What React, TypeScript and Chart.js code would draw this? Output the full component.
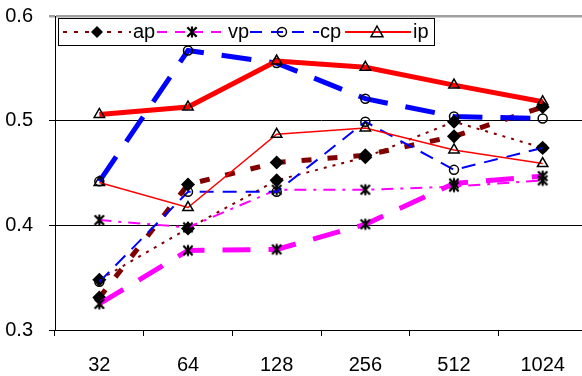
import React, { useEffect, useRef } from 'react';
import { Chart, registerables } from 'chart.js';
Chart.register(...registerables);

const categories = ['32', '64', '128', '256', '512', '1024'];
const apThick = [0.331, 0.439, 0.46, 0.467, 0.485, 0.513];
const apThin = [0.348, 0.397, 0.443, 0.465, 0.499, 0.474];
const vpThick = [0.325, 0.376, 0.377, 0.401, 0.44, 0.447];
const vpThin = [0.405, 0.398, 0.434, 0.434, 0.437, 0.443];
const cpThick = [0.442, 0.567, 0.555, 0.521, 0.504, 0.502];
const cpThin = [0.346, 0.432, 0.432, 0.499, 0.453, 0.474];
const ipThick = [0.506, 0.513, 0.557, 0.551, 0.534, 0.518];
const ipThin = [0.441, 0.417, 0.487, 0.493, 0.472, 0.459];
const yTicks = [0.3, 0.4, 0.5, 0.6];
const legendLabels = ['ap', 'vp', 'cp', 'ip'];

const DARKRED = '#800000';
const MAGENTA = '#ff00ff';
const BLUE = '#0000ff';
const RED = '#ff0000';
const FONT = '"Liberation Sans", Arial, sans-serif';

function drawMarker(ctx: CanvasRenderingContext2D, kind: string, x: number, y: number) {
  ctx.save();
  ctx.strokeStyle = '#000';
  ctx.fillStyle = '#000';
  ctx.lineWidth = 1.5;
  ctx.setLineDash([]);
  ctx.beginPath();
  if (kind === 'diamond') {
    const r = 6;
    ctx.moveTo(x, y - r); ctx.lineTo(x + r, y); ctx.lineTo(x, y + r); ctx.lineTo(x - r, y); ctx.closePath();
    ctx.fill();
  } else if (kind === 'star') {
    const r = 5.5;
    ctx.moveTo(x, y - r); ctx.lineTo(x, y + r);
    ctx.moveTo(x - r * 0.85, y - r * 0.85); ctx.lineTo(x + r * 0.85, y + r * 0.85);
    ctx.moveTo(x + r * 0.85, y - r * 0.85); ctx.lineTo(x - r * 0.85, y + r * 0.85);
    ctx.lineWidth = 2.2;
    ctx.stroke();
  } else if (kind === 'circle') {
    ctx.arc(x, y, 4.5, 0, Math.PI * 2);
    ctx.stroke();
  } else if (kind === 'triangle') {
    const r = 6;
    ctx.moveTo(x, y - r); ctx.lineTo(x + r, y + r * 0.8); ctx.lineTo(x - r, y + r * 0.8); ctx.closePath();
    ctx.stroke();
  }
  ctx.restore();
}

function makeStarImage(): HTMLCanvasElement {
  const c = document.createElement('canvas');
  c.width = 14; c.height = 14;
  const ctx = c.getContext('2d')!;
  drawMarker(ctx, 'star', 7, 7);
  return c;
}

const legendSpec = [
  { label: legendLabels[0], color: DARKRED, dash: [4, 7], x0: 63, x1: 131, mx: 97, tx: 133, marker: 'diamond' },
  { label: legendLabels[1], color: MAGENTA, dash: [10, 8], x0: 157, x1: 227, mx: 192, tx: 228, marker: 'star' },
  { label: legendLabels[2], color: BLUE, dash: [12, 9], x0: 250, x1: 319, mx: 282, tx: 320, marker: 'circle' },
  { label: legendLabels[3], color: RED, dash: [], x0: 345, x1: 411, mx: 377, tx: 413, marker: 'triangle' },
];

const legendPlugin = {
  id: 'boxLegend',
  afterDraw(chart: any) {
    const ctx: CanvasRenderingContext2D = chart.ctx;
    ctx.save();
    ctx.fillStyle = '#fff';
    ctx.fillRect(58, 18, 376, 27);
    ctx.strokeStyle = '#000';
    ctx.lineWidth = 1;
    ctx.strokeRect(58.5, 18.5, 376, 27);
    const cy = 32;
    for (const e of legendSpec) {
      ctx.save();
      ctx.strokeStyle = e.color;
      ctx.lineWidth = 2;
      ctx.setLineDash(e.dash);
      ctx.beginPath();
      ctx.moveTo(e.x0, cy);
      ctx.lineTo(e.x1, cy);
      ctx.stroke();
      ctx.restore();
      drawMarker(ctx, e.marker, e.mx, cy);
      ctx.fillStyle = '#000';
      ctx.font = `20px ${FONT}`;
      ctx.textBaseline = 'middle';
      ctx.textAlign = 'left';
      ctx.fillText(e.label, e.tx, cy);
    }
    ctx.restore();
  },
};

export default function App() {
  const ref = useRef<HTMLCanvasElement | null>(null);
  useEffect(() => {
    if (!ref.current) return;
    const star = makeStarImage();
    const mk = (data: number[], color: string, width: number, dash: number[], style: any, fill: string, radius: number) => ({
      data,
      borderColor: color,
      borderWidth: width,
      borderDash: dash,
      borderCapStyle: 'butt',
      tension: 0,
      fill: false,
      pointStyle: style,
      pointRadius: radius,
      pointBackgroundColor: fill,
      pointBorderColor: '#000',
      pointBorderWidth: 1.5,
    });
    const chart = new Chart(ref.current, {
      type: 'line',
      data: {
        labels: categories,
        datasets: [
          mk(ipThin, RED, 1.5, [], 'triangle', 'rgba(0,0,0,0)', 6),
          mk(cpThin, BLUE, 2, [14, 9], 'circle', 'rgba(0,0,0,0)', 4.5),
          mk(vpThin, MAGENTA, 2, [12, 7, 3, 7], star, '#000', 6),
          mk(apThin, DARKRED, 2, [3, 6], 'rectRot', '#000', 6),
          mk(ipThick, RED, 5, [], 'triangle', 'rgba(0,0,0,0)', 6),
          mk(cpThick, BLUE, 5, [30, 18], 'circle', 'rgba(0,0,0,0)', 4.5),
          mk(vpThick, MAGENTA, 5, [28, 18], star, '#000', 6),
          mk(apThick, DARKRED, 5, [10, 16], 'rectRot', '#000', 6),
        ] as any,
      },
      options: {
        responsive: false,
        animation: false,
        layout: { padding: { top: 16, right: 13, left: 0, bottom: 0 } },
        plugins: { legend: { display: false }, tooltip: { enabled: false } },
        scales: {
          x: {
            type: 'category',
            offset: true,
            grid: { offset: true, drawOnChartArea: false, drawTicks: true, tickLength: 6, color: '#000', tickColor: '#000' },
            border: { display: true, color: '#000', width: 1 },
            ticks: { color: '#000', font: { family: FONT, size: 20 }, padding: 17, maxRotation: 0, autoSkip: false },
            afterFit: (s: any) => { s.height = 46; s.paddingLeft = 0; s.paddingRight = 0; },
          },
          y: {
            min: 0.3,
            max: 0.6,
            afterBuildTicks: (s: any) => { s.ticks = yTicks.map((v) => ({ value: v })); },
            ticks: { color: '#000', font: { family: FONT, size: 20 }, padding: 16, callback: (v: any) => Number(v).toFixed(1) },
            grid: {
              color: (c: any) => (c.tick && Math.abs(c.tick.value - 0.6) < 1e-6 ? '#a0a0a0' : '#000'),
              lineWidth: (c: any) => (c.tick && Math.abs(c.tick.value - 0.6) < 1e-6 ? 2.5 : 1),
              tickLength: 6,
              drawTicks: true,
            },
            border: { display: true, color: '#000', width: 1 },
            afterFit: (s: any) => { s.width = 55; s.paddingTop = 0; s.paddingBottom = 0; },
          },
        },
      } as any,
      plugins: [legendPlugin],
    });
    return () => chart.destroy();
  }, []);
  return (
    <div style={{ position: 'fixed', left: 0, top: 0, width: 582, height: 376, overflow: 'hidden', background: '#fff' }}>
      <canvas ref={ref} width={600} height={376} style={{ display: 'block', width: 600, height: 376 }} />
    </div>
  );
}
